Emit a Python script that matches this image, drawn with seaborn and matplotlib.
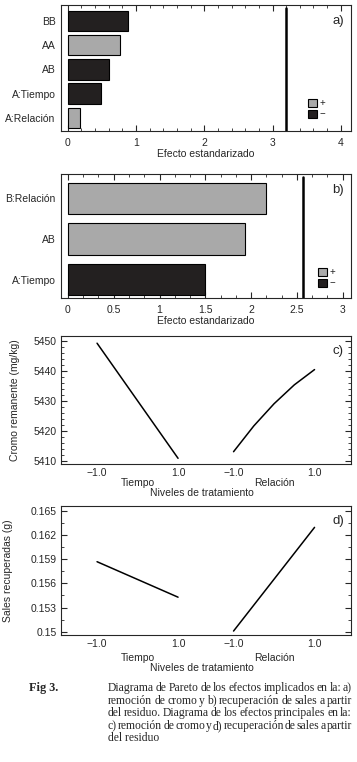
import matplotlib
matplotlib.use("Agg")
import matplotlib.pyplot as plt
from matplotlib.patches import Patch
from matplotlib.ticker import MultipleLocator, AutoMinorLocator
import pandas as pd
import seaborn as sns

# Pareto a) remocion de cromo
factors_a = ["BB", "AA", "AB", "A:Tiempo", "A:Relación"]
effects_a = [0.88, 0.77, 0.60, 0.48, 0.18]
signs_a = ["−", "+", "−", "−", "+"]
limit_a = 3.2

# Pareto b) recuperacion de sales
factors_b = ["B:Relación", "AB", "A:Tiempo"]
effects_b = [2.16, 1.93, 1.50]
signs_b = ["+", "+", "−"]
limit_b = 2.57

# main effects c) and d)
levels = [-1.0, -0.5, 0.0, 0.5, 1.0]
cromo_tiempo = [5449.2, 5439.6, 5430.0, 5420.4, 5410.8]
cromo_relacion = [5413.0, 5421.6, 5429.0, 5435.3, 5440.4]
levels_d = [-1.0, 1.0]
sales_tiempo = [0.15869, 0.15429]
sales_relacion = [0.15009, 0.16295]
offset_relacion = 3.37  # horizontal shift of the Relación block

caption = ["Diagrama de Pareto de los efectos implicados en la: a)",
           "remoción de cromo y b) recuperación de sales a partir",
           "del residuo. Diagrama de los efectos principales en la:",
           "c) remoción de cromo y d) recuperación de sales a partir",
           "del residuo"]

sns.set_style("ticks")
plt.rcParams['font.family'] = ['Liberation Sans', 'DejaVu Sans']
plt.rcParams['axes.linewidth'] = 0.8

W, H = 357, 762
fig = plt.figure(figsize=(W / 100, H / 100), dpi=100)


def axes_px(left, top, right, bottom):
    return fig.add_axes([left / W, 1 - bottom / H, (right - left) / W, (bottom - top) / H])


grey, black = "#a9a9a9", "#231f20"
pal = {"+": grey, "−": black}


def pareto(ax, factors, effects, signs, limit, xlim, ylim, major, tag, leg_anchor, width):
    df = pd.DataFrame({"factor": factors, "effect": effects, "sign": signs})
    sns.barplot(data=df, x="effect", y="factor", hue="sign", palette=pal, dodge=False,
                orient="h", width=width, edgecolor="black", linewidth=0.8,
                legend=False, ax=ax)
    ax.axvline(limit, ymin=0, ymax=0.975, color="black", lw=1.8)
    ax.set_xlim(*xlim)
    ax.set_ylim(*ylim)
    ax.xaxis.set_major_locator(MultipleLocator(major))
    ax.xaxis.set_minor_locator(AutoMinorLocator(5 if major == 1 else 3))
    ax.tick_params(axis="x", which="both", direction="in", top=True, bottom=True,
                   labelsize=7.5, pad=5)
    ax.tick_params(axis="x", which="major", length=4)
    ax.tick_params(axis="x", which="minor", length=2.5)
    ax.tick_params(axis="y", length=0, labelsize=7.5, pad=4)
    ax.set_ylabel("")
    ax.set_xlabel("Efecto estandarizado", fontsize=7.5, labelpad=1)
    for s in ax.spines.values():
        s.set_visible(True)
    ax.text(0.955, 0.87, tag, transform=ax.transAxes, ha="center", va="center", fontsize=9.5)
    handles = [Patch(facecolor=grey, edgecolor="black", lw=0.8),
               Patch(facecolor=black, edgecolor="black", lw=0.8)]
    ax.legend(handles, ["+", "−"], loc="upper left", bbox_to_anchor=leg_anchor,
              frameon=False, fontsize=7, handlelength=0.9, handleheight=0.9,
              handletextpad=0.3, labelspacing=0.15, borderpad=0, borderaxespad=0)
    ax.set_xticklabels([f"{t:g}" for t in ax.get_xticks()])


ax_a = axes_px(61, 5, 351, 131)
pareto(ax_a, factors_a, effects_a, signs_a, limit_a, (-0.1, 4.15), (4.535, -0.65), 1, "a)",
       ((308 - 61) / 290, (131 - 98) / 126), 0.84)

ax_b = axes_px(61, 174, 351, 298)
pareto(ax_b, factors_b, effects_b, signs_b, limit_b, (-0.076, 3.09), (2.455, -0.6), 0.5, "b)",
       ((318 - 61) / 290, (298 - 267) / 124), 0.78)


def effects_plot(ax, lv, y_t, y_r, ylim, major, nminor, ylabel, tag, ylab_x, fmt):
    df = pd.DataFrame({
        "pos": list(lv) + [v + offset_relacion for v in lv],
        "val": list(y_t) + list(y_r),
        "factor": ["Tiempo"] * len(lv) + ["Relación"] * len(lv)})
    sns.lineplot(data=df, x="pos", y="val", hue="factor",
                 palette={"Tiempo": "black", "Relación": "black"},
                 lw=1.1, legend=False, ax=ax)
    ax.set_xlim(-1.89, 5.27)
    ax.set_ylim(*ylim)
    ax.set_xticks([-1, 1, -1 + offset_relacion, 1 + offset_relacion])
    ax.set_xticklabels(["−1.0", "1.0", "−1.0", "1.0"])
    ax.yaxis.set_major_locator(MultipleLocator(major))
    ax.yaxis.set_minor_locator(AutoMinorLocator(nminor))
    ax.yaxis.set_major_formatter(fmt)
    ax.tick_params(axis="x", length=0, labelsize=7.5, pad=3)
    ax.tick_params(axis="y", which="both", direction="in", left=True, right=True,
                   labelsize=7.5, pad=3)
    ax.tick_params(axis="y", which="major", length=4)
    ax.tick_params(axis="y", which="minor", length=2.5)
    for s in ax.spines.values():
        s.set_visible(True)
    ax.set_ylabel(ylabel, fontsize=7.5)
    ax.yaxis.set_label_coords(ylab_x, 0.5)
    ax.set_xlabel("")
    ax.text(0.955, 0.88, tag, transform=ax.transAxes, ha="center", va="center", fontsize=9.5)


ax_c = axes_px(61, 336, 351, 464)
effects_plot(ax_c, levels, cromo_tiempo, cromo_relacion, (5408.9, 5451.6), 10, 5,
             "Cromo remanente (mg/kg)", "c)", -0.141, lambda v, p: f"{v:.0f}")

ax_d = axes_px(61, 506, 351, 635)
effects_plot(ax_d, levels_d, sales_tiempo, sales_relacion, (0.1496, 0.1656), 0.003, 2,
             "Sales recuperadas (g)", "d)", -0.166, lambda v, p: f"{v:.3f}".rstrip("0"))


def factor_labels(y_fac, y_lab):
    fig.text(137.5 / W, 1 - y_fac / H, "Tiempo", ha="center", va="center", fontsize=7.5)
    fig.text(274 / W, 1 - y_fac / H, "Relación", ha="center", va="center", fontsize=7.5)
    fig.text(202 / W, 1 - y_lab / H, "Niveles de tratamiento", ha="center", va="center",
             fontsize=7.5)


factor_labels(483, 493)
factor_labels(658, 668)

# caption, justified like the printed figure
serif = ['Liberation Serif', 'DejaVu Serif']
cap_size = 8.4
fig.text(29 / W, 1 - 688 / H, "Fig 3.", family=serif, weight="bold", fontsize=8.8,
         ha="left", va="center")
renderer = fig.canvas.get_renderer()
x0, x1 = 108, 352
for i, line in enumerate(caption):
    y = 1 - (688 + i * 12.6) / H
    words = line.split(" ")
    if i == len(caption) - 1:
        fig.text(x0 / W, y, line, family=serif, fontsize=cap_size, ha="left", va="center")
        continue
    texts = [fig.text(0, y, w, family=serif, fontsize=cap_size, ha="left", va="center")
             for w in words]
    widths = [t.get_window_extent(renderer).width for t in texts]
    gap = (x1 - x0 - sum(widths)) / (len(words) - 1)
    x = x0
    for t, wd in zip(texts, widths):
        t.set_x(x / W)
        x += wd + gap

fig.savefig("out.png", dpi=100)
